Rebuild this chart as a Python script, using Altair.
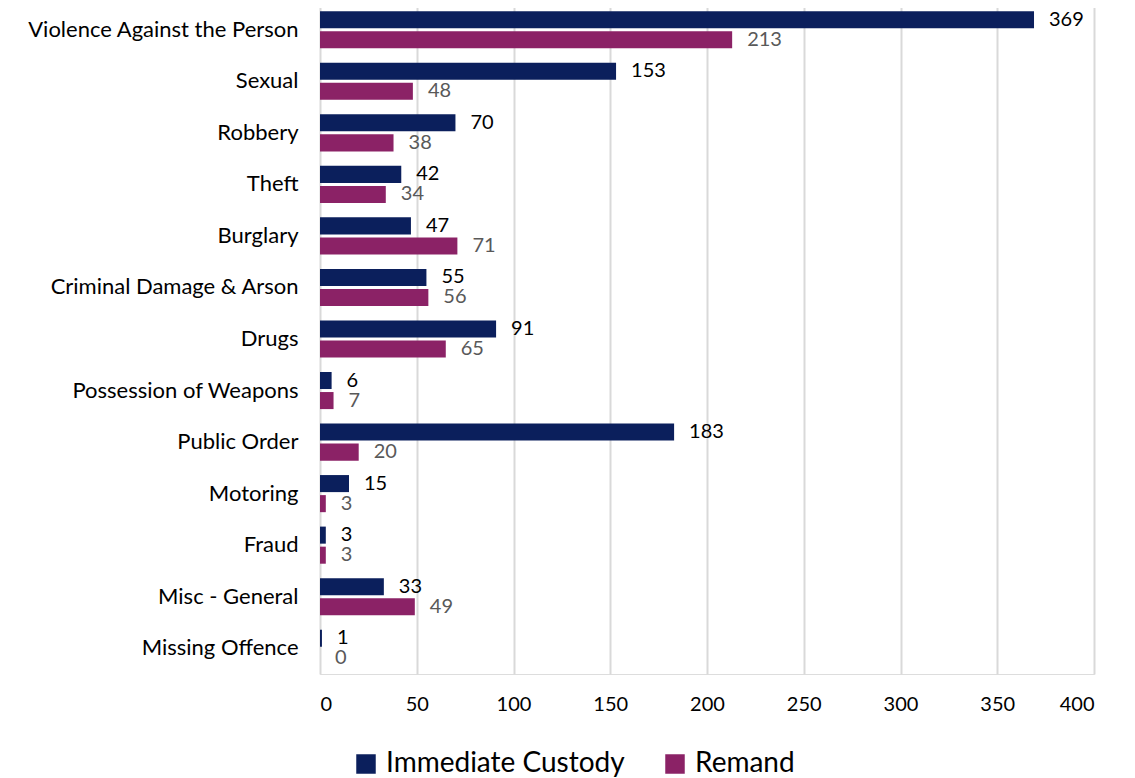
import altair as alt
import pandas as pd

categories = ["Violence Against the Person", "Sexual", "Robbery", "Theft", "Burglary",
              "Criminal Damage & Arson", "Drugs", "Possession of Weapons", "Public Order",
              "Motoring", "Fraud", "Misc - General", "Missing Offence"]
custody = [369, 153, 70, 42, 47, 55, 91, 6, 183, 15, 3, 33, 1]
remand = [213, 48, 38, 34, 71, 56, 65, 7, 20, 3, 3, 49, 0]
series = ["Immediate Custody", "Remand"]
x_ticks = [0, 50, 100, 150, 200, 250, 300, 350, 400]

rows = []
for c, a, b in zip(categories, custody, remand):
    rows.append({"category": c, "series": series[0], "value": a})
    rows.append({"category": c, "series": series[1], "value": b})
df = pd.DataFrame(rows)

FONT = "Lato"

y_enc = alt.Y("category:N", sort=categories, title=None,
              scale=alt.Scale(paddingInner=0.28, paddingOuter=0.14),
              axis=alt.Axis(labelFontSize=22, labelColor="#000000", labelFont=FONT,
                            ticks=False, domain=False, labelPadding=22, labelLimit=400,
                            minExtent=307, maxExtent=307))
x_enc = alt.X("value:Q", title=None,
              scale=alt.Scale(domain=[0, 400], nice=False),
              axis=alt.Axis(values=x_ticks, labelFontSize=20, labelColor="#000000",
                            labelFont=FONT, ticks=False, domain=False, labelPadding=20,
                            grid=True, gridColor="#d9d9d9", gridWidth=2))
yoff = alt.YOffset("series:N", sort=series,
                   scale=alt.Scale(paddingInner=0.15))

bars = alt.Chart(df).mark_bar().encode(
    y=y_enc, x=x_enc, yOffset=yoff,
    color=alt.Color("series:N", sort=series,
                    scale=alt.Scale(domain=series, range=["#0b1f5c", "#8b2266"]),
                    legend=alt.Legend(title=None, orient="none", direction="horizontal",
                                      legendX=32, legendY=746,
                                      symbolType="square", symbolSize=380,
                                      symbolStrokeWidth=0,
                                      labelFontSize=28, labelFont=FONT, labelLimit=500,
                                      labelColor="#000000", columnPadding=36,
                                      symbolOffset=0, labelOffset=6)),
)

labels = alt.Chart(df).mark_text(align="left", baseline="middle", dx=15,
                                 fontSize=20, font=FONT).encode(
    y=alt.Y("category:N", sort=categories), x="value:Q", yOffset=yoff,
    text="value:Q",
    color=alt.condition("datum.series == 'Immediate Custody'",
                        alt.value("#000000"), alt.value("#595959")),
)

chart = (bars + labels).properties(width=774, height=670).configure_view(
    stroke=None).configure(padding={"left": 5, "top": -4, "right": 5, "bottom": 5})

chart.save("out.html", embed_options={"renderer": "svg", "actions": False})
